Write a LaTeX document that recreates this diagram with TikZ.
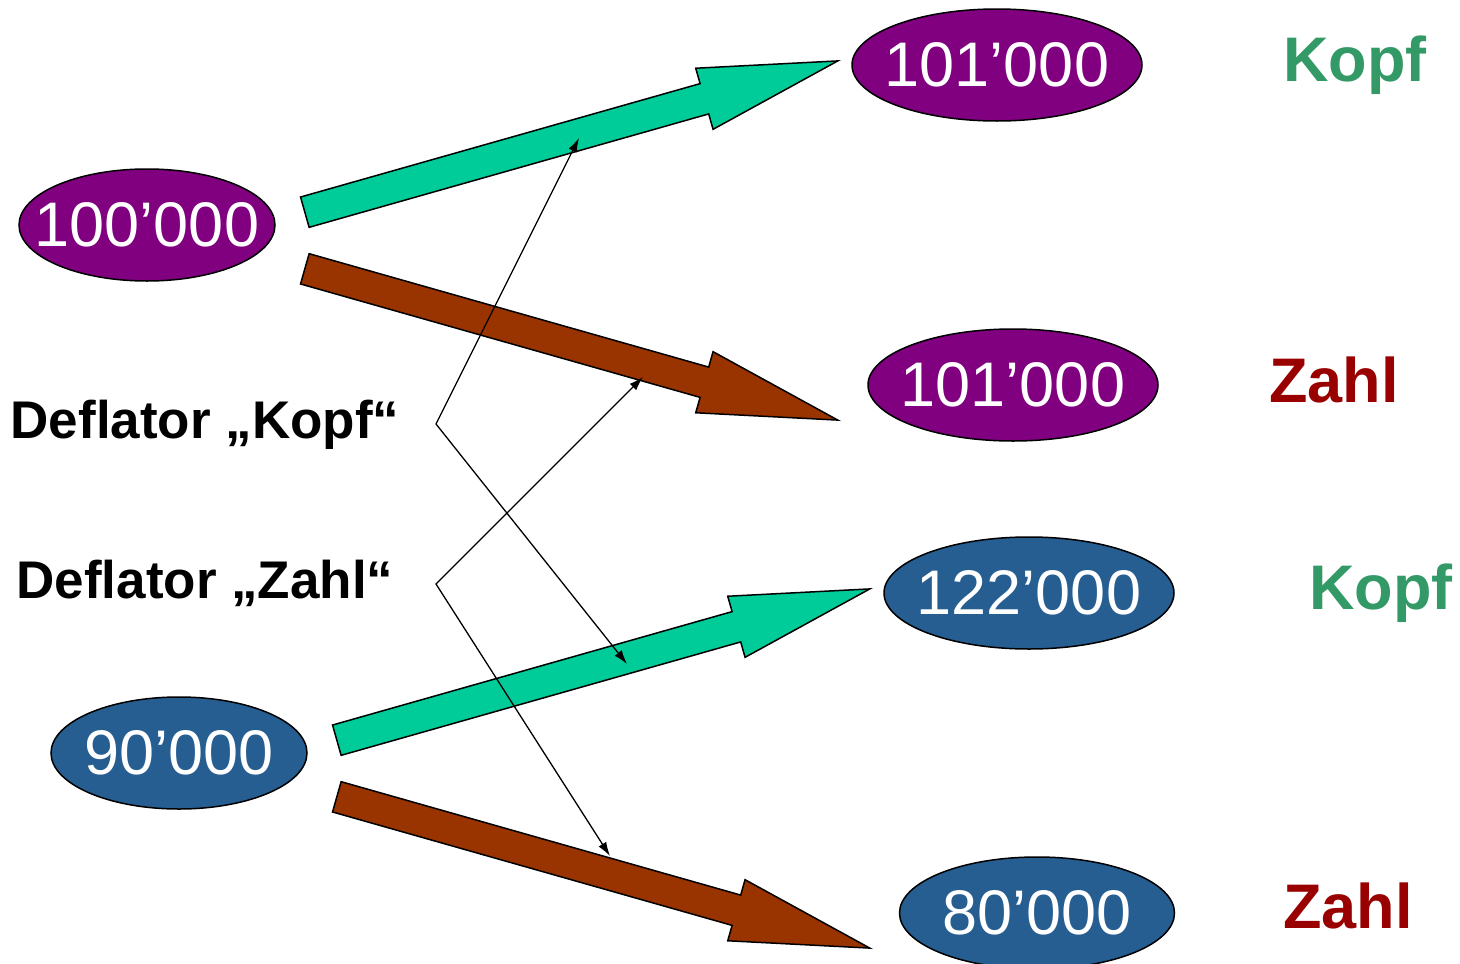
\documentclass[tikz,border=0pt]{standalone}
\usepackage{fontspec}
\setmainfont{Liberation Sans}
\usetikzlibrary{shapes.geometric,shapes.arrows,arrows.meta}
\definecolor{purp}{RGB}{128,0,128}
\definecolor{steel}{RGB}{38,94,145}
\definecolor{kopfarrow}{RGB}{0,204,153}
\definecolor{zahlarrow}{RGB}{153,51,0}
\definecolor{kopftext}{RGB}{51,153,102}
\definecolor{zahltext}{RGB}{153,0,0}
\begin{document}
\begin{tikzpicture}[x=1pt,y=-1pt]
\useasboundingbox (0,0) rectangle (1460,964);

% half height of each value ellipse
\def\ry{56pt}
% node style definition
\tikzstyle{value} = [
	draw, ellipse, line width=1.5pt, inner sep=0pt,
	minimum height=2*\ry, text=white,
	font=\fontsize{63}{70}\selectfont ];
\tikzstyle{fat} = [
	single arrow, draw, line width=1.5pt, inner xsep=0pt, inner ysep=15pt,
	minimum height=554pt,
	single arrow head extend=16pt, single arrow tip angle=25.8,
	sloped, pos=1, anchor=tip ];
\tikzstyle{side} = [anchor=base, font=\bfseries\fontsize{63}{70}\selectfont];
\tikzstyle{defl} = [anchor=base, font=\bfseries\fontsize{53}{60}\selectfont];
\tikzstyle{pointer} = [line width=1.3pt,
	{Latex[length=14pt,width=9pt]}-{Latex[length=14pt,width=9pt]}];

\node[value,fill=purp,minimum width=256pt] (v100) at (147,225) {\makebox[0pt]{100’000}};
\node[value,fill=purp,minimum width=290pt] (v101k) at (997,65) {\makebox[0pt]{101’000}};
\node[value,fill=purp,minimum width=290pt] (v101z) at (1013,385) {\makebox[0pt]{101’000}};
\node[value,fill=steel,minimum width=290pt] (v122) at (1029,593) {\makebox[0pt]{122’000}};
\node[value,fill=steel,minimum width=256pt] (v90) at (179,753) {\makebox[0pt]{90’000}};
\node[value,fill=steel,minimum width=275pt] (v80) at (1037,913) {\makebox[0pt]{80’000}};

\node[side,text=kopftext] (k1) at (1355,81) {Kopf};
\node[side,text=zahltext] (z1) at (1334,402) {Zahl};
\node[side,text=kopftext] (k2) at (1381,609) {Kopf};
\node[side,text=zahltext] (z2) at (1348,928) {Zahl};

% fat arrows: tail and tip
\coordinate (a1s) at (302,213); \coordinate (a1e) at (841,60);
\coordinate (a2s) at (302,268); \coordinate (a2e) at (841,421);
\coordinate (a3s) at (334,741); \coordinate (a3e) at (873,588);
\coordinate (a4s) at (334,796); \coordinate (a4e) at (873,949);
\path (a1s) -- node[fat,fill=kopfarrow] (a1) {} (a1e);
\path (a2s) -- node[fat,fill=zahlarrow] (a2) {} (a2e);
\path (a3s) -- node[fat,fill=kopfarrow] (a3) {} (a3e);
\path (a4s) -- node[fat,fill=zahlarrow] (a4) {} (a4e);

\node[defl] (dk) at (205,438) {Deflator „Kopf“};
\node[defl] (dz) at (205,598) {Deflator „Zahl“};

\coordinate (ck) at (436,424);
\coordinate (cz) at (436,584);
\coordinate (pk1) at (579,138);
\coordinate (pk2) at (627,664);
\coordinate (pz1) at (643,377);
\coordinate (pz2) at (610,856);
\draw[pointer] (pk1) -- (ck) -- (pk2);
\draw[pointer] (pz1) -- (cz) -- (pz2);

\end{tikzpicture}
\end{document}
